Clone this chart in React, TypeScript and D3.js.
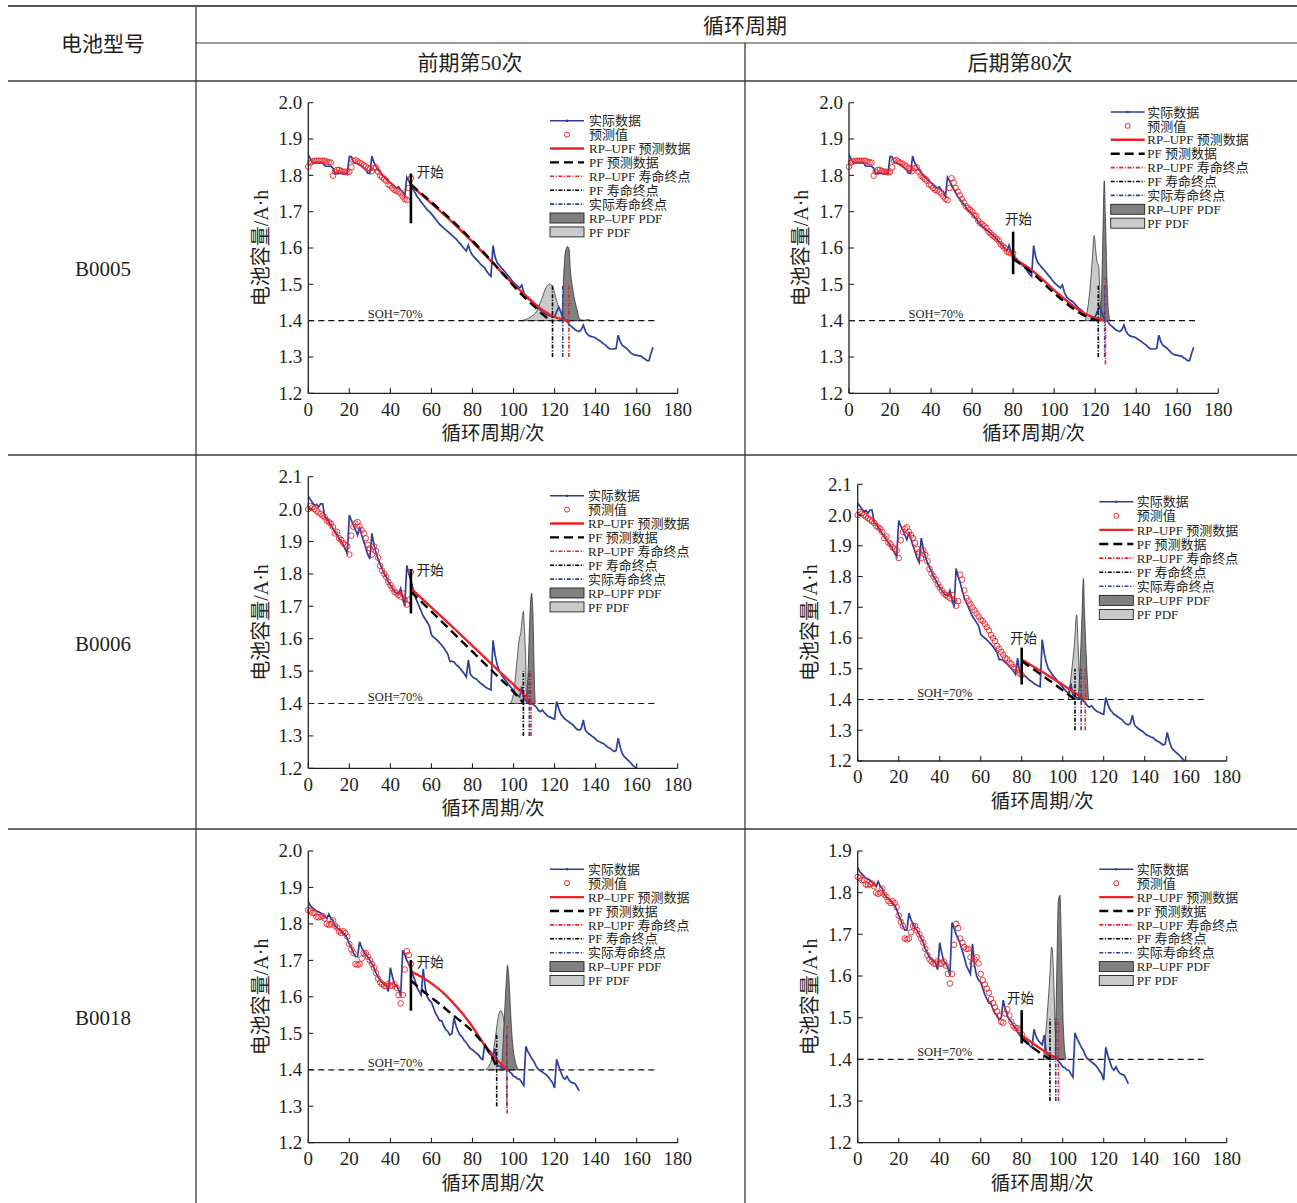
import React from "react";
import * as d3 from "d3";

type Pt = [number, number];

// ---------- data ----------
const B0005_actual = [
  1.856, 1.846, 1.835, 1.835, 1.835, 1.835, 1.835, 1.835, 1.826, 1.825, 1.825, 1.825, 1.82, 1.806, 1.805, 1.805, 1.806, 1.805, 1.805, 1.805,
  1.852, 1.851, 1.836, 1.835, 1.832, 1.83, 1.826, 1.82, 1.815, 1.806, 1.805, 1.853, 1.835, 1.825, 1.815, 1.81, 1.8, 1.795, 1.79, 1.785,
  1.78, 1.775, 1.77, 1.765, 1.768, 1.76, 1.755, 1.742, 1.795, 1.785,
  1.772, 1.762, 1.752, 1.742, 1.735, 1.727, 1.72, 1.712, 1.705, 1.7,
  1.694, 1.687, 1.68, 1.672, 1.665, 1.66, 1.655, 1.65, 1.645, 1.64,
  1.635, 1.63, 1.625, 1.618, 1.612, 1.605, 1.598, 1.592, 1.608, 1.59,
  1.58, 1.574, 1.568, 1.562, 1.555, 1.55, 1.545, 1.535, 1.528, 1.522,
  1.607, 1.575, 1.56, 1.553, 1.546, 1.54, 1.533, 1.526, 1.52, 1.512,
  1.505, 1.5, 1.495, 1.49, 1.498, 1.478, 1.466, 1.46, 1.456, 1.452,
  1.446, 1.44, 1.434, 1.43, 1.425, 1.42, 1.417, 1.415, 1.412, 1.41,
  1.41, 1.425, 1.438, 1.425, 1.41, 1.402, 1.398, 1.39, 1.385, 1.38,
  1.375, 1.372, 1.37, 1.375, 1.388, 1.372, 1.362, 1.358, 1.356, 1.355,
  1.352, 1.348, 1.345, 1.34, 1.336, 1.332, 1.326, 1.322, 1.322, 1.322,
  1.324, 1.36, 1.342, 1.332, 1.328, 1.324, 1.318, 1.312, 1.308, 1.305,
  1.305, 1.303, 1.303, 1.298, 1.295, 1.29, 1.29, 1.31, 1.327,
];

const B0006_actual = [
  2.038, 2.03, 2.02, 2.012, 2.015, 2.006, 2.016, 2.016, 1.977, 1.97,
  1.96, 1.95, 1.94, 1.93, 1.92, 1.91, 1.9, 1.89, 1.876, 1.864,
  1.982, 1.965, 1.95, 1.935, 1.92, 1.946, 1.92, 1.9, 1.88, 1.86,
  1.846, 1.925, 1.89, 1.865, 1.845, 1.83, 1.815, 1.8, 1.79, 1.775,
  1.765, 1.755, 1.745, 1.74, 1.738, 1.755, 1.728, 1.7, 1.826, 1.8,
  1.78, 1.755, 1.73, 1.715, 1.7, 1.685, 1.67, 1.66, 1.65, 1.64,
  1.612, 1.605, 1.6, 1.594, 1.587, 1.58, 1.572, 1.562, 1.552, 1.53,
  1.53, 1.528, 1.52, 1.515, 1.508, 1.5, 1.492, 1.482, 1.535, 1.49,
  1.482, 1.478, 1.475, 1.468, 1.462, 1.458, 1.452, 1.448, 1.445, 1.442,
  1.595, 1.55, 1.52, 1.5, 1.49, 1.48, 1.472, 1.465, 1.455, 1.448,
  1.44, 1.432, 1.425, 1.42, 1.452, 1.415, 1.41, 1.405, 1.405, 1.4,
  1.395, 1.39, 1.38, 1.375, 1.38, 1.372, 1.365, 1.36, 1.358, 1.354,
  1.352, 1.406, 1.385, 1.368, 1.36, 1.352, 1.348, 1.343, 1.338, 1.334,
  1.326, 1.32, 1.318, 1.322, 1.349, 1.318, 1.31, 1.305, 1.3, 1.296,
  1.29, 1.284, 1.282, 1.278, 1.276, 1.27, 1.265, 1.262, 1.257, 1.252,
  1.255, 1.293, 1.265, 1.245, 1.236, 1.23, 1.224, 1.218, 1.21, 1.204,
  1.198,
];

const B0018_actual = [
  1.861, 1.85, 1.845, 1.84, 1.835, 1.833, 1.83, 1.825, 1.82, 1.815,
  1.827, 1.815, 1.81, 1.795, 1.79, 1.785, 1.78, 1.775, 1.77, 1.76,
  1.745, 1.735, 1.72, 1.71, 1.71, 1.751, 1.735, 1.725, 1.715, 1.71,
  1.7, 1.69, 1.68, 1.665, 1.655, 1.645, 1.64, 1.635, 1.63, 1.615,
  1.68, 1.655, 1.635, 1.63, 1.62, 1.602, 1.728, 1.715, 1.7, 1.69,
  1.677, 1.66, 1.645, 1.625, 1.615, 1.605, 1.677, 1.625, 1.6, 1.59,
  1.585, 1.57, 1.555, 1.545, 1.535, 1.535, 1.52, 1.51, 1.505, 1.495,
  1.5, 1.542, 1.52, 1.505, 1.495, 1.49, 1.48, 1.475, 1.465, 1.458,
  1.455, 1.45, 1.445, 1.44, 1.432, 1.428, 1.472, 1.455, 1.446, 1.44,
  1.435, 1.458, 1.414, 1.41, 1.408, 1.406, 1.404, 1.402, 1.395, 1.39,
  1.382, 1.38, 1.375, 1.374, 1.365, 1.357, 1.464, 1.45, 1.44, 1.43,
  1.422, 1.41, 1.402, 1.398, 1.394, 1.39, 1.386, 1.38, 1.372, 1.365,
  1.35, 1.429, 1.41, 1.395, 1.38, 1.374, 1.382, 1.372, 1.366, 1.364,
  1.362, 1.352, 1.342,
];

const B0005_pred = [
  1.824, 1.835, 1.838, 1.84, 1.84, 1.84, 1.84, 1.84, 1.84, 1.838,
  1.836, 1.835, 1.799, 1.81, 1.815, 1.815, 1.812, 1.81, 1.81, 1.808,
  1.81, 1.822, 1.84, 1.842, 1.838, 1.835, 1.832, 1.828, 1.825, 1.82,
  1.818, 1.812, 1.82, 1.822, 1.81, 1.8, 1.795, 1.79, 1.785, 1.775,
  1.772, 1.765, 1.76, 1.758, 1.755, 1.75, 1.742, 1.735, 1.732, 1.765,
  1.792, 1.78, 1.765, 1.755, 1.745, 1.735, 1.725, 1.715, 1.71, 1.705,
  1.7, 1.69, 1.688, 1.675, 1.668, 1.665, 1.66, 1.655, 1.645, 1.64,
  1.635, 1.63, 1.625, 1.62, 1.61, 1.605, 1.6, 1.59, 1.588, 1.585,
  1.585,
];

const B0006_pred = [
  2.0, 2.01, 2.005, 2.0, 1.995, 1.99, 1.985, 1.98, 1.975, 1.965,
  1.96, 1.955, 1.945, 1.925, 1.93, 1.91, 1.905, 1.895, 1.89, 1.885,
  1.86, 1.918, 1.945, 1.955, 1.96, 1.945, 1.935, 1.925, 1.91, 1.89,
  1.879, 1.86, 1.885, 1.87, 1.85, 1.825, 1.81, 1.8, 1.79, 1.775,
  1.765, 1.755, 1.745, 1.74, 1.735, 1.73, 1.74, 1.72, 1.705, 1.72,
  1.806, 1.79, 1.755, 1.73, 1.72, 1.71, 1.7, 1.69, 1.68, 1.67,
  1.66, 1.655, 1.645, 1.635, 1.625, 1.61, 1.6, 1.59, 1.575, 1.565,
  1.555, 1.545, 1.535, 1.53, 1.52, 1.515, 1.505, 1.5, 1.495, 1.485,
  1.48,
];

const B0018_pred = [
  1.838, 1.835, 1.83, 1.83, 1.82, 1.818, 1.82, 1.822, 1.815, 1.8,
  1.797, 1.8, 1.81, 1.795, 1.79, 1.78, 1.775, 1.78, 1.775, 1.765,
  1.745, 1.73, 1.72, 1.69, 1.688, 1.69, 1.705, 1.72, 1.72, 1.71,
  1.7, 1.69, 1.68, 1.665, 1.65, 1.64, 1.635, 1.63, 1.63, 1.635,
  1.63, 1.63, 1.635, 1.625, 1.605, 1.582, 1.605, 1.675, 1.725, 1.715,
  1.69, 1.68, 1.67, 1.665, 1.665, 1.645, 1.63, 1.64, 1.645, 1.63,
  1.605, 1.59, 1.58, 1.57, 1.56, 1.545, 1.535, 1.525, 1.515, 1.505,
  1.49, 1.488, 1.51, 1.52, 1.505, 1.49, 1.48, 1.475, 1.475, 1.47,
  1.46,
];

// prediction curves [cycle, capacity]
const P1_rp: Pt[] = [[50, 1.772], [60, 1.723], [70, 1.672], [80, 1.617], [90, 1.558], [100, 1.5], [105, 1.474], [110, 1.448], [115, 1.426], [120, 1.41], [124, 1.403], [127, 1.4]];
const P1_pf: Pt[] = [[50, 1.775], [60, 1.726], [70, 1.676], [80, 1.62], [90, 1.56], [100, 1.496], [105, 1.466], [110, 1.44], [114, 1.418], [118, 1.402]];
const P2_rp: Pt[] = [[80, 1.572], [85, 1.555], [90, 1.535], [95, 1.51], [100, 1.484], [105, 1.46], [110, 1.437], [115, 1.419], [120, 1.407], [124.8, 1.4]];
const P2_pf: Pt[] = [[80, 1.57], [85, 1.55], [90, 1.528], [95, 1.502], [100, 1.476], [105, 1.452], [110, 1.43], [115, 1.413], [119, 1.404], [121.5, 1.4]];
const P3_rp: Pt[] = [[50, 1.755], [60, 1.697], [70, 1.638], [80, 1.578], [90, 1.518], [100, 1.458], [105, 1.428], [108.5, 1.4]];
const P3_pf: Pt[] = [[50, 1.745], [60, 1.684], [70, 1.622], [80, 1.56], [90, 1.498], [100, 1.436], [104.8, 1.402]];
const P4_rp: Pt[] = [[80, 1.53], [85, 1.51], [90, 1.49], [95, 1.469], [100, 1.448], [105, 1.426], [111, 1.4]];
const P4_pf: Pt[] = [[80, 1.525], [85, 1.502], [90, 1.478], [95, 1.455], [100, 1.43], [104, 1.41], [106, 1.4]];
const P5_rp: Pt[] = [[50, 1.67], [55, 1.655], [60, 1.637], [65, 1.615], [70, 1.587], [75, 1.555], [80, 1.518], [85, 1.475], [90, 1.44], [94, 1.415], [97, 1.4]];
const P5_pf: Pt[] = [[50, 1.645], [55, 1.62], [60, 1.598], [65, 1.576], [70, 1.552], [75, 1.53], [80, 1.505], [85, 1.474], [88, 1.45], [90, 1.43], [92, 1.403]];
const P6_rp: Pt[] = [[80, 1.458], [85, 1.44], [90, 1.423], [95, 1.408], [98, 1.4]];
const P6_pf: Pt[] = [[80, 1.45], [85, 1.43], [90, 1.412], [94, 1.4]];

// PDF outlines [cycle, capacity]
const P1_pfPdf: Pt[] = [[103, 1.4], [106, 1.403], [109, 1.413], [111.2, 1.425], [113.6, 1.457], [116.1, 1.494], [117.7, 1.501], [119.3, 1.49], [120.9, 1.457], [122.5, 1.43], [125, 1.407], [127.4, 1.402], [131, 1.4]];
const P1_rpPdf: Pt[] = [[121.5, 1.4], [123.4, 1.402], [124.5, 1.531], [125.3, 1.591], [126.3, 1.604], [127.1, 1.595], [127.7, 1.54], [128.7, 1.494], [129.8, 1.457], [131, 1.43], [132, 1.407], [133.1, 1.402], [135, 1.401], [136, 1.403], [138, 1.4]];
const P2_pfPdf: Pt[] = [[115.2, 1.4], [116.5, 1.44], [117.5, 1.49], [118.6, 1.57], [119.5, 1.634], [120.3, 1.59], [120.9, 1.562], [121.7, 1.55], [122.3, 1.47], [122.8, 1.4]];
const P2_rpPdf: Pt[] = [[122.4, 1.4], [123.2, 1.5], [123.8, 1.65], [124.4, 1.785], [125, 1.68], [125.7, 1.52], [126.4, 1.43], [127.2, 1.4]];
const P3_pfPdf: Pt[] = [[98.3, 1.4], [100, 1.43], [101.5, 1.519], [102.8, 1.6], [103.5, 1.617], [104.2, 1.66], [104.8, 1.684], [105.3, 1.63], [105.8, 1.56], [106.2, 1.45], [106.5, 1.4]];
const P3_rpPdf: Pt[] = [[106.4, 1.4], [107.2, 1.519], [108, 1.673], [108.8, 1.74], [109.3, 1.7], [109.6, 1.642], [110, 1.519], [110.3, 1.44], [110.6, 1.4]];
const P4_pfPdf: Pt[] = [[102.8, 1.4], [104.5, 1.5], [105.7, 1.58], [106.8, 1.675], [107.5, 1.58], [108.2, 1.46], [108.6, 1.4]];
const P4_rpPdf: Pt[] = [[107.6, 1.4], [108.5, 1.512], [109.4, 1.675], [110.1, 1.794], [110.7, 1.675], [111.7, 1.512], [112.6, 1.4]];
const P5_pfPdf: Pt[] = [[86.5, 1.4], [88, 1.41], [89.3, 1.427], [91, 1.482], [92.6, 1.546], [93.7, 1.562], [95, 1.546], [96.7, 1.482], [98.3, 1.427], [99.5, 1.41], [101, 1.4]];
const P5_rpPdf: Pt[] = [[93.7, 1.4], [94.3, 1.42], [95, 1.482], [95.8, 1.573], [96.7, 1.664], [97, 1.687], [97.8, 1.646], [98.6, 1.555], [99.4, 1.482], [100.7, 1.427], [101.5, 1.41], [102.5, 1.4]];
const P6_pfPdf: Pt[] = [[90.6, 1.4], [91.5, 1.45], [92.5, 1.51], [93.8, 1.606], [94.6, 1.67], [95.4, 1.622], [96.3, 1.478], [97, 1.4]];
const P6_rpPdf: Pt[] = [[96.3, 1.4], [97.1, 1.606], [97.9, 1.782], [98.7, 1.794], [99.3, 1.686], [100.3, 1.478], [101.6, 1.4]];

// end-of-life markers: [cycle, low, high]
const P1_eol = { rp: [127, 1.3, 1.5], pf: [119, 1.3, 1.5], act: [124, 1.3, 1.5] };
const P2_eol = { rp: [125, 1.28, 1.52], pf: [121.5, 1.3, 1.5], act: [124.6, 1.3, 1.5] };
const P3_eol = { rp: [108.5, 1.3, 1.5], pf: [104.8, 1.3, 1.5], act: [107.7, 1.3, 1.5] };
const P4_eol = { rp: [111, 1.3, 1.5], pf: [106, 1.3, 1.5], act: [109, 1.3, 1.5] };
const P5_eol = { rp: [96.9, 1.28, 1.52], pf: [91.8, 1.3, 1.5], act: [96.7, 1.3, 1.5] };
const P6_eol = { rp: [97.9, 1.3, 1.5], pf: [93.8, 1.3, 1.5], act: [96.6, 1.3, 1.5] };

const XTICKS = [0, 20, 40, 60, 80, 100, 120, 140, 160, 180];
const YTICKS_20 = [1.2, 1.3, 1.4, 1.5, 1.6, 1.7, 1.8, 1.9, 2.0];
const YTICKS_21 = [1.2, 1.3, 1.4, 1.5, 1.6, 1.7, 1.8, 1.9, 2.0, 2.1];
const YTICKS_19 = [1.2, 1.3, 1.4, 1.5, 1.6, 1.7, 1.8, 1.9];

const LEGEND = ["实际数据", "预测值", "RP–UPF 预测数据", "PF 预测数据", "RP–UPF 寿命终点", "PF 寿命终点", "实际寿命终点", "RP–UPF PDF", "PF PDF"];
const BATTERIES = ["B0005", "B0006", "B0018"];

// ---------- styling ----------
const BLUE = "#2b3f9e";
const RED = "#ec2227";
const DARK = "#808080";
const LIGHT = "#c9caca";
const INK = "#231f20";
const FONT = "'Liberation Serif', 'Noto Sans CJK SC', serif";
const CJK = "'Noto Sans CJK SC', sans-serif";
const DASHDOT = "4,1.6,1.2,1.6";

// ---------- layout ----------
const panels = [
  { id: "p1", actual: B0005_actual, pred: B0005_pred.slice(0, 51), start: 50, yticks: YTICKS_20, x0: 308.3, x1: 677.7, yb: 393.3, yt: 102.7, lx: 550, ly: 120.7, ldy: 13.9, ltx: 39, rp: P1_rp, pf: P1_pf, rpPdf: P1_rpPdf, pfPdf: P1_pfPdf, eol: P1_eol, startSeg: [1.668, 1.805], startLab: [52.8, 1.809] },
  { id: "p2", actual: B0005_actual, pred: B0005_pred, start: 80, yticks: YTICKS_20, x0: 849, x1: 1218.3, yb: 393.3, yt: 102.7, lx: 1110.7, ly: 112, ldy: 13.9, ltx: 36.6, rp: P2_rp, pf: P2_pf, rpPdf: P2_rpPdf, pfPdf: P2_pfPdf, eol: P2_eol, startSeg: [1.528, 1.645], startLab: [76, 1.68] },
  { id: "p3", actual: B0006_actual, pred: B0006_pred.slice(0, 51), start: 50, yticks: YTICKS_21, x0: 308.3, x1: 677.7, yb: 768.3, yt: 476.7, lx: 550, ly: 495.7, ldy: 13.9, ltx: 38, rp: P3_rp, pf: P3_pf, rpPdf: P3_rpPdf, pfPdf: P3_pfPdf, eol: P3_eol, startSeg: [1.678, 1.815], startLab: [52.8, 1.813] },
  { id: "p4", actual: B0006_actual, pred: B0006_pred, start: 80, yticks: YTICKS_21, x0: 857.7, x1: 1226.7, yb: 761, yt: 484.3, lx: 1099.3, ly: 501.7, ldy: 14.1, ltx: 37.4, rp: P4_rp, pf: P4_pf, rpPdf: P4_rpPdf, pfPdf: P4_pfPdf, eol: P4_eol, startSeg: [1.449, 1.569], startLab: [74.3, 1.599] },
  { id: "p5", actual: B0018_actual, pred: B0018_pred.slice(0, 51), start: 50, yticks: YTICKS_20, x0: 308.3, x1: 677.7, yb: 1142.7, yt: 851, lx: 550, ly: 869.3, ldy: 13.9, ltx: 38, rp: P5_rp, pf: P5_pf, rpPdf: P5_rpPdf, pfPdf: P5_pfPdf, eol: P5_eol, startSeg: [1.562, 1.701], startLab: [52.8, 1.696] },
  { id: "p6", actual: B0018_actual, pred: B0018_pred, start: 80, yticks: YTICKS_19, x0: 857.7, x1: 1226.7, yb: 1142.7, yt: 851, lx: 1099.3, ly: 869.3, ldy: 13.9, ltx: 37.4, rp: P6_rp, pf: P6_pf, rpPdf: P6_rpPdf, pfPdf: P6_pfPdf, eol: P6_eol, startSeg: [1.438, 1.518], startLab: [72.8, 1.547] },
];

function Legend({ p }: { p: any }) {
  const rows = LEGEND.map((label, i) => {
    const yy = p.ly + i * p.ldy;
    const a = p.lx;
    const b = p.lx + 34;
    let sym: any = null;
    if (i === 0) sym = (<g><line x1={a} x2={b} y1={yy} y2={yy} stroke={BLUE} strokeWidth={1.6} /><circle cx={(a + b) / 2} cy={yy} r={1.3} fill={BLUE} /></g>);
    else if (i === 1) sym = <circle cx={(a + b) / 2} cy={yy} r={2.5} fill="none" stroke={RED} strokeWidth={1} />;
    else if (i === 2) sym = <line x1={a} x2={b} y1={yy} y2={yy} stroke={RED} strokeWidth={2.4} />;
    else if (i === 3) sym = <line x1={a} x2={b} y1={yy} y2={yy} stroke="#000" strokeWidth={2.4} strokeDasharray="9,5" />;
    else if (i === 4) sym = <line x1={a} x2={b} y1={yy} y2={yy} stroke={RED} strokeWidth={1.6} strokeDasharray={DASHDOT} />;
    else if (i === 5) sym = <line x1={a} x2={b} y1={yy} y2={yy} stroke="#000" strokeWidth={1.6} strokeDasharray={DASHDOT} />;
    else if (i === 6) sym = <line x1={a} x2={b} y1={yy} y2={yy} stroke={BLUE} strokeWidth={1.6} strokeDasharray={DASHDOT} />;
    else if (i === 7) sym = <rect x={a} y={yy - 5} width={34} height={10} fill={DARK} stroke="#222" strokeWidth={0.9} />;
    else sym = <rect x={a} y={yy - 5} width={34} height={10} fill={LIGHT} stroke="#222" strokeWidth={0.9} />;
    return (
      <g key={i}>
        {sym}
        <text x={p.lx + p.ltx} y={yy} dy="0.36em" fontSize={13} fill={INK} fontFamily={FONT}>{label}</text>
      </g>
    );
  });
  return <g>{rows}</g>;
}

function Panel({ p }: { p: any }) {
  const ymax = p.yticks[p.yticks.length - 1];
  const x = d3.scaleLinear().domain([0, 180]).range([p.x0, p.x1]);
  const y = d3.scaleLinear().domain([1.2, ymax]).range([p.yb, p.yt]);
  const line = d3.line<Pt>().x((d) => x(d[0])).y((d) => y(d[1]));
  const smooth = d3.line<Pt>().x((d) => x(d[0])).y((d) => y(d[1])).curve(d3.curveMonotoneX);
  const area = d3.area<Pt>().x((d) => x(d[0])).y0(y(1.4)).y1((d) => y(d[1])).curve(d3.curveMonotoneX);
  const actual: Pt[] = p.actual.map((v: number, i: number) => [i, v] as Pt);
  const fmt = d3.format(".1f");
  const clipId = "clip-" + p.id;
  const eolLine = (e: number[], color: string) => (
    <line x1={x(e[0])} x2={x(e[0])} y1={y(e[1])} y2={y(e[2])} stroke={color} strokeWidth={1.6} strokeDasharray={DASHDOT} />
  );
  return (
    <g>
      <defs>
        <clipPath id={clipId}>
          <rect x={p.x0} y={p.yt} width={p.x1 - p.x0} height={p.yb - p.yt} />
        </clipPath>
      </defs>
      {/* PDFs */}
      <path d={area(p.pfPdf) || ""} fill={LIGHT} stroke="#222" strokeWidth={0.7} />
      <path d={area(p.rpPdf) || ""} fill={DARK} stroke="#222" strokeWidth={0.7} />
      {/* SOH line */}
      <line x1={x(0)} x2={x(170)} y1={y(1.4)} y2={y(1.4)} stroke="#111" strokeWidth={1.2} strokeDasharray="6,4" />
      <text x={x(29)} y={y(1.4) - 3} fontSize={12.5} fill={INK} fontFamily={FONT}>SOH=70%</text>
      {/* actual data */}
      <path d={line(actual) || ""} fill="none" stroke={BLUE} strokeWidth={1.7} clipPath={`url(#${clipId})`} />
      {/* predicted values */}
      {p.pred.map((v: number, i: number) => (
        <circle key={i} cx={x(i)} cy={y(v)} r={2.8} fill="none" stroke={RED} strokeWidth={0.9} />
      ))}
      {/* predictions */}
      <path d={smooth(p.rp) || ""} fill="none" stroke={RED} strokeWidth={2.4} />
      <path d={smooth(p.pf) || ""} fill="none" stroke="#000" strokeWidth={2.4} strokeDasharray="9,5" />
      {/* EOL markers */}
      {eolLine(p.eol.pf, "#000")}
      {eolLine(p.eol.act, BLUE)}
      {eolLine(p.eol.rp, RED)}
      {/* start marker */}
      <line x1={x(p.start)} x2={x(p.start)} y1={y(p.startSeg[0])} y2={y(p.startSeg[1])} stroke="#000" strokeWidth={2.6} />
      <text x={x(p.startLab[0])} y={y(p.startLab[1])} dy="0.36em" fontSize={13.5} fill={INK} fontFamily={CJK}>开始</text>
      {/* axes */}
      <line x1={p.x0} x2={p.x0} y1={p.yb} y2={p.yt} stroke="#222" strokeWidth={1.3} />
      <line x1={p.x0} x2={p.x1} y1={p.yb} y2={p.yb} stroke="#222" strokeWidth={1.3} />
      {p.yticks.map((t: number) => (
        <g key={"y" + t}>
          <line x1={p.x0} x2={p.x0 + 5} y1={y(t)} y2={y(t)} stroke="#222" strokeWidth={1.1} />
          <text x={p.x0 - 6} y={y(t)} dy="0.34em" textAnchor="end" fontSize={19} fill={INK} fontFamily={FONT}>{fmt(t)}</text>
        </g>
      ))}
      {XTICKS.map((t) => (
        <g key={"x" + t}>
          <line x1={x(t)} x2={x(t)} y1={p.yb} y2={p.yb - 5} stroke="#222" strokeWidth={1.1} />
          <text x={x(t)} y={p.yb + 16} dy="0.34em" textAnchor="middle" fontSize={19} fill={INK} fontFamily={FONT}>{t}</text>
        </g>
      ))}
      <text x={(p.x0 + p.x1) / 2} y={p.yb + 40} dy="0.36em" textAnchor="middle" fontSize={19.5} fill={INK} fontFamily={FONT}>
        <tspan fontFamily={CJK}>循环周期</tspan><tspan>/</tspan><tspan fontFamily={CJK}>次</tspan>
      </text>
      <text transform={`translate(${p.x0 - 48},${(p.yb + p.yt) / 2}) rotate(-90)`} dy="0.36em" textAnchor="middle" fontSize={20} fill={INK} fontFamily={FONT}>
        <tspan fontFamily={CJK}>电池容量</tspan><tspan>/A·h</tspan>
      </text>
      <Legend p={p} />
    </g>
  );
}

export default function App() {
  const W = 1297;
  const H = 1203;
  const lineC = "#3a3a3a";
  const rowCenters = [268, 643, 1017];
  return (
    <svg width={W} height={H} style={{ position: "absolute", left: 0, top: 0, background: "#fff" }} xmlns="http://www.w3.org/2000/svg">
      <rect x={0} y={0} width={W} height={H} fill="#fff" />
      {/* table rules */}
      <line x1={8} x2={1297} y1={6} y2={6} stroke="#555" strokeWidth={2.2} />
      <line x1={196} x2={1297} y1={43} y2={43} stroke={lineC} strokeWidth={1.2} />
      <line x1={8} x2={1297} y1={81} y2={81} stroke={lineC} strokeWidth={1.5} />
      <line x1={8} x2={1297} y1={455} y2={455} stroke={lineC} strokeWidth={1.3} />
      <line x1={8} x2={1297} y1={829} y2={829} stroke={lineC} strokeWidth={1.3} />
      <line x1={196} x2={196} y1={7} y2={1203} stroke={lineC} strokeWidth={1.3} />
      <line x1={745} x2={745} y1={43} y2={1203} stroke={lineC} strokeWidth={1.3} />
      {/* header text */}
      <text x={103} y={43} dy="0.36em" textAnchor="middle" fontSize={21} fill={INK} fontFamily={CJK}>电池型号</text>
      <text x={745} y={25} dy="0.36em" textAnchor="middle" fontSize={21} fill={INK} fontFamily={CJK}>循环周期</text>
      <text x={470} y={62} dy="0.36em" textAnchor="middle" fontSize={21} fill={INK} fontFamily={FONT}>
        <tspan fontFamily={CJK}>前期第</tspan><tspan>50</tspan><tspan fontFamily={CJK}>次</tspan>
      </text>
      <text x={1020} y={62} dy="0.36em" textAnchor="middle" fontSize={21} fill={INK} fontFamily={FONT}>
        <tspan fontFamily={CJK}>后期第</tspan><tspan>80</tspan><tspan fontFamily={CJK}>次</tspan>
      </text>
      {BATTERIES.map((b, i) => (
        <text key={b} x={103} y={rowCenters[i]} dy="0.36em" textAnchor="middle" fontSize={21} fill={INK} fontFamily={FONT}>{b}</text>
      ))}
      {panels.map((p) => (
        <Panel key={p.id} p={p} />
      ))}
    </svg>
  );
}
